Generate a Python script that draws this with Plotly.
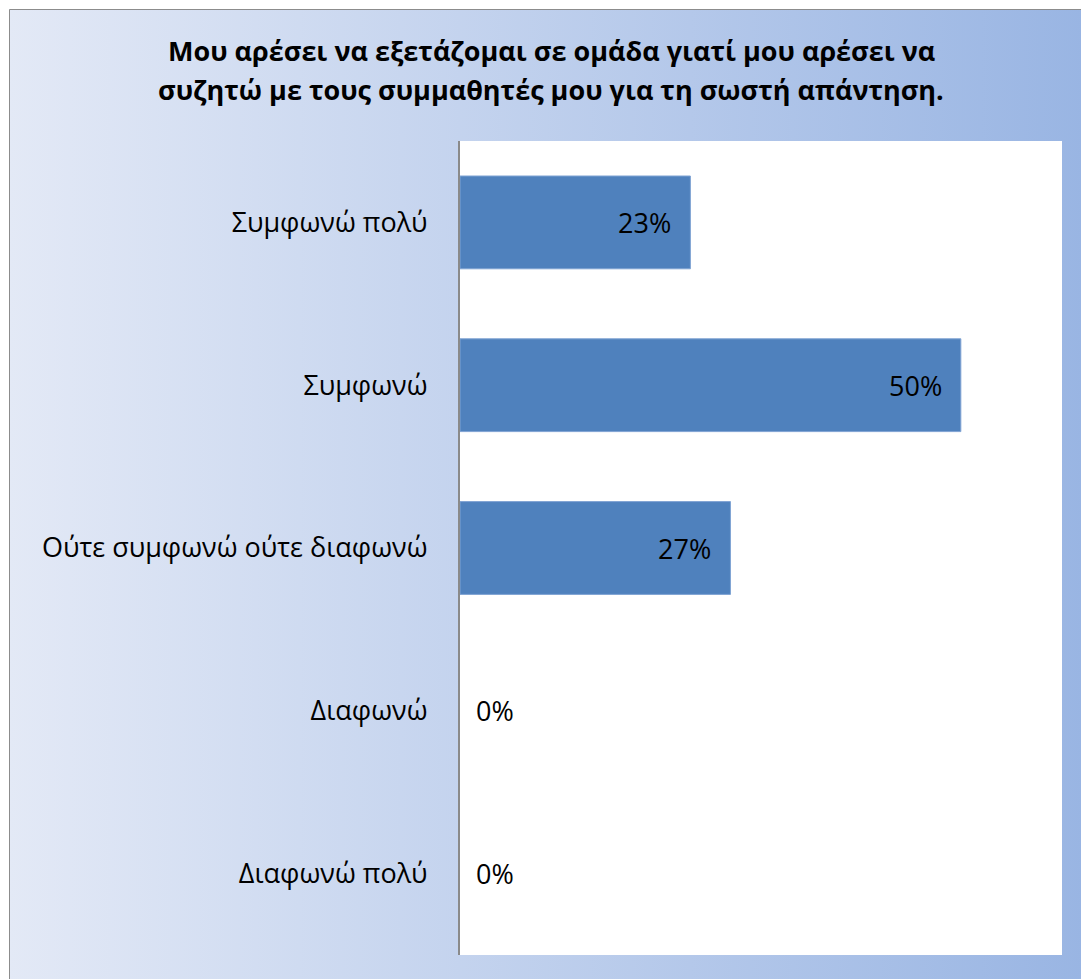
import base64
import plotly.graph_objects as go

# Survey responses, listed top to bottom
categories = ["Συμφωνώ πολύ", "Συμφωνώ", "Ούτε συμφωνώ ούτε διαφωνώ", "Διαφωνώ", "Διαφωνώ πολύ"]
shares = [0.23, 0.50, 0.27, 0.0, 0.0]
value_labels = ["23%", "50%", "27%", "0%", "0%"]

title_lines = ["Μου αρέσει να εξετάζομαι σε ομάδα γιατί μου αρέσει να",
               "συζητώ με τους συμμαθητές μου για τη σωστή απάντηση."]

W, H = 1081, 979
L, R, T, B = 460, 19, 141, 24
plot_w = W - L - R
plot_h = H - T - B

FONT = "Open Sans"
LABEL_SIZE = 27


def px_x(p):
    return (p - L) / plot_w


def px_y(p):
    return (H - B - p) / plot_h


# horizontal gradient backdrop for the chart area
grad_svg = (
    '<svg xmlns="http://www.w3.org/2000/svg" width="200" height="200" '
    'viewBox="0 0 200 200" preserveAspectRatio="none">'
    '<defs><linearGradient id="g" x1="0" y1="0" x2="1" y2="0">'
    '<stop offset="0" stop-color="#e3e9f6"/>'
    '<stop offset="1" stop-color="#99b5e3"/>'
    '</linearGradient></defs>'
    '<rect x="0" y="0" width="200" height="200" fill="url(#g)"/></svg>'
)
grad_uri = "data:image/svg+xml;base64," + base64.b64encode(grad_svg.encode()).decode()

fig = go.Figure()
fig.add_trace(go.Bar(
    x=shares,
    y=categories,
    orientation="h",
    marker=dict(color="#4f81bd",
                line=dict(color="#7fa3d3", width=[1 if v > 0 else 0 for v in shares])),
    hoverinfo="skip",
))

# value labels: inside the bar end, or just right of the axis for empty bars
annotations = []
for cat, v, lab in zip(categories, shares, value_labels):
    if v > 0:
        annotations.append(dict(x=v, y=cat, xref="x", yref="y", text=lab, showarrow=False,
                                xanchor="right", xshift=-17,
                                font=dict(family=FONT, size=LABEL_SIZE, color="#000000")))
    else:
        annotations.append(dict(x=0, y=cat, xref="x", yref="y", text=lab, showarrow=False,
                                xanchor="left", xshift=14,
                                font=dict(family=FONT, size=LABEL_SIZE, color="#000000")))

# two-line bold heading
for line, cy in zip(title_lines, [50, 90]):
    annotations.append(dict(x=px_x(551), y=px_y(cy), xref="paper", yref="paper",
                            text="<b>" + line + "</b>", showarrow=False,
                            xanchor="center", yanchor="middle",
                            font=dict(family=FONT, size=27, color="#000000")))

fig.update_layout(
    width=W, height=H,
    margin=dict(l=L, r=R, t=T, b=B, pad=0),
    paper_bgcolor="#ffffff",
    plot_bgcolor="rgba(0,0,0,0)",
    showlegend=False,
    bargap=0.43,
    xaxis=dict(range=[0, 0.601], showgrid=False, zeroline=False, showticklabels=False,
               ticks="", showline=False, fixedrange=True),
    yaxis=dict(categoryorder="array", categoryarray=categories[::-1],
               showgrid=False, zeroline=False, ticks="", showline=True,
               linecolor="#8a8a8a", linewidth=2, ticklabelstandoff=25,
               tickfont=dict(family=FONT, size=LABEL_SIZE, color="#000000"), fixedrange=True),
    images=[dict(source=grad_uri, xref="paper", yref="paper",
                 x=px_x(9), y=px_y(9), sizex=px_x(W + 2) - px_x(9), sizey=px_y(9) - px_y(H + 2),
                 xanchor="left", yanchor="top", sizing="stretch", layer="below")],
    shapes=[
        # white plotting surface
        dict(type="rect", xref="paper", yref="paper", x0=0, x1=1, y0=0, y1=1,
             fillcolor="#ffffff", line=dict(width=0), layer="below"),
        # outer chart frame
        dict(type="rect", xref="paper", yref="paper",
             x0=px_x(9.5), x1=px_x(W + 5), y0=px_y(H + 5), y1=px_y(9.5),
             fillcolor="rgba(0,0,0,0)", line=dict(color="#8c8c8c", width=1), layer="above"),
    ],
    annotations=annotations,
)

fig.write_html("out.html")
